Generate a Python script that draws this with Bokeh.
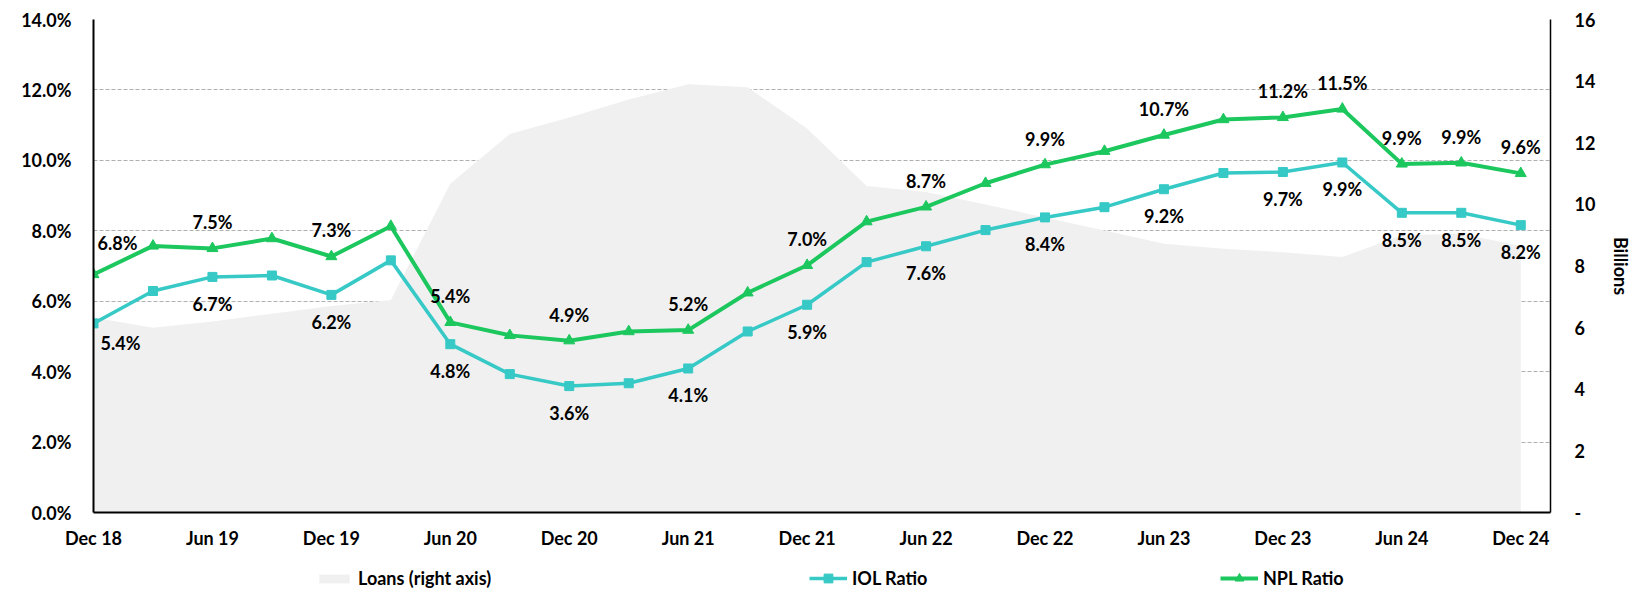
from bokeh.plotting import figure
from bokeh.layouts import column
from bokeh.models import (ColumnDataSource, Range1d, LinearAxis, FixedTicker,
                          PrintfTickFormatter, Legend, LegendItem, CDSView, IndexFilter)
from bokeh.core.properties import value
from bokeh.embed import file_html
from bokeh.resources import INLINE

# ---------------- data ----------------
quarters = ["Dec 18", "Mar 19", "Jun 19", "Sep 19", "Dec 19", "Mar 20", "Jun 20",
            "Sep 20", "Dec 20", "Mar 21", "Jun 21", "Sep 21", "Dec 21", "Mar 22",
            "Jun 22", "Sep 22", "Dec 22", "Mar 23", "Jun 23", "Sep 23", "Dec 23",
            "Mar 24", "Jun 24", "Sep 24", "Dec 24"]

loans_bn = [6.33, 6.00, 6.20, 6.45, 6.70, 6.90, 10.67, 12.28, 12.82, 13.40, 13.90,
            13.80, 12.46, 10.60, 10.40, 10.00, 9.57, 9.15, 8.72, 8.56, 8.45, 8.29,
            9.00, 9.05, 8.65]

iol_ratio = [5.37, 6.29, 6.69, 6.73, 6.18, 7.16, 4.78, 3.93, 3.59, 3.67, 4.09, 5.14,
             5.90, 7.11, 7.56, 8.02, 8.38, 8.67, 9.18, 9.64, 9.67, 9.94, 8.51, 8.51, 8.16]

npl_ratio = [6.76, 7.57, 7.50, 7.78, 7.27, 8.13, 5.40, 5.03, 4.88, 5.14, 5.18, 6.24,
             7.02, 8.26, 8.68, 9.35, 9.88, 10.26, 10.72, 11.16, 11.22, 11.46, 9.90,
             9.93, 9.63]

iol_labels = ["5.4%", "", "6.7%", "", "6.2%", "", "4.8%", "", "3.6%", "", "4.1%", "",
              "5.9%", "", "7.6%", "", "8.4%", "", "9.2%", "", "9.7%", "9.9%", "8.5%",
              "8.5%", "8.2%"]
npl_labels = ["6.8%", "", "7.5%", "", "7.3%", "", "5.4%", "", "4.9%", "", "5.2%", "",
              "7.0%", "", "8.7%", "", "9.9%", "", "10.7%", "", "11.2%", "11.5%", "9.9%",
              "9.9%", "9.6%"]

left_ticks = [0, 2, 4, 6, 8, 10, 12, 14]
right_ticks = [0, 2, 4, 6, 8, 10, 12, 14, 16]

series_names = ["Loans (right axis)", "IOL Ratio", "NPL Ratio"]

# ---------------- styling ----------------
FONT = "Lato"
TXT = "#000000"
IOL_C = "#36C9C6"
NPL_C = "#1CC75E"
AREA_C = "#F0F0F0"

xs = list(range(len(quarters)))
src = ColumnDataSource(dict(x=xs, q=quarters, loans=loans_bn, iol=iol_ratio,
                            npl=npl_ratio, iol_lab=iol_labels, npl_lab=npl_labels))

p = figure(width=1640, height=555, output_backend="svg", toolbar_location=None,
           x_range=Range1d(0, len(quarters) - 1 + 0.5), y_range=Range1d(0, 14),
           min_border_left=93, min_border_right=90, min_border_top=19,
           min_border_bottom=43, x_axis_location="below")
p.outline_line_color = None
p.background_fill_color = "white"
p.border_fill_color = "white"

p.extra_y_ranges = {"loans": Range1d(0, 16)}

# grid
p.xgrid.visible = False
p.ygrid.ticker = FixedTicker(ticks=left_ticks)
p.ygrid.grid_line_color = "#B0B0B0"
p.ygrid.grid_line_dash = "4 2"
p.ygrid.grid_line_width = 1

# loans area (right axis)
p.varea(x="x", y1=0, y2="loans", source=src, y_range_name="loans", fill_color=AREA_C)

# lines
p.line("x", "iol", source=src, line_color=IOL_C, line_width=3.5)
p.scatter("x", "iol", source=src, marker="square", size=9,
          fill_color=IOL_C, line_color=IOL_C)
p.line("x", "npl", source=src, line_color=NPL_C, line_width=4)
p.scatter("x", "npl", source=src, marker="triangle", size=11,
          fill_color=NPL_C, line_color=NPL_C)

# data labels
rest = CDSView(filter=IndexFilter(list(range(1, len(quarters)))))
first = CDSView(filter=IndexFilter([0]))
lab_kw = dict(text_font=value(FONT), text_font_style="bold", text_font_size="18px",
              text_color=TXT, text_align="center", text_baseline="middle")
p.text("x", "npl", text="npl_lab", source=src, view=rest, y_offset=-26, **lab_kw)
p.text("x", "iol", text="iol_lab", source=src, view=rest, y_offset=27, **lab_kw)
p.text("x", "npl", text="npl_lab", source=src, view=first, x_offset=24, y_offset=-31, **lab_kw)
p.text("x", "iol", text="iol_lab", source=src, view=first, x_offset=27, y_offset=20, **lab_kw)

# axes
def style_axis(ax):
    ax.major_label_text_font = FONT
    ax.major_label_text_font_style = "bold"
    ax.major_label_text_font_size = "18px"
    ax.major_label_text_color = TXT
    ax.major_tick_line_color = None
    ax.minor_tick_line_color = None
    ax.major_tick_out = 0
    ax.major_tick_in = 0
    ax.axis_line_color = "#000000"
    ax.axis_line_width = 2

xa = p.xaxis[0]
style_axis(xa)
xa.ticker = FixedTicker(ticks=xs[::2])
xa.major_label_overrides = {i: quarters[i] for i in xs[::2]}
xa.major_label_standoff = 14

ya = p.yaxis[0]
style_axis(ya)
ya.ticker = FixedTicker(ticks=left_ticks)
ya.formatter = PrintfTickFormatter(format="%.1f%%")
ya.major_label_standoff = 22

ra = LinearAxis(y_range_name="loans", axis_label="Billions")
style_axis(ra)
ra.axis_line_width = 1.5
ra.ticker = FixedTicker(ticks=right_ticks)
ra.major_label_overrides = {0: "-"}
ra.major_label_standoff = 24
ra.axis_label_text_font = FONT
ra.axis_label_text_font_style = "bold"
ra.axis_label_text_font_size = "18px"
ra.axis_label_text_color = TXT
ra.axis_label_standoff = 12
p.add_layout(ra, "right")

# ---------------- legend strip ----------------
# (its frame is aligned with the chart's frame by the column layout; the
#  renderers below use the same data but the ranges keep them out of view)
lg = figure(width=1640, height=48, output_backend="svg", toolbar_location=None,
            x_range=Range1d(0, 1), y_range=Range1d(-200, -199),
            x_axis_type=None, y_axis_type=None,
            min_border_left=93, min_border_right=90, min_border_top=0, min_border_bottom=0)
lg.outline_line_color = None
lg.xgrid.visible = False
lg.ygrid.visible = False
lg.border_fill_color = "white"

k_area = lg.varea(x="x", y1=0, y2="loans", source=src, fill_color=AREA_C)
k_iol_l = lg.line("x", "iol", source=src, line_color=IOL_C, line_width=3.5)
k_iol_m = lg.scatter("x", "iol", source=src, marker="square", size=9,
                     fill_color=IOL_C, line_color=IOL_C)
k_npl_l = lg.line("x", "npl", source=src, line_color=NPL_C, line_width=4)
k_npl_m = lg.scatter("x", "npl", source=src, marker="triangle", size=11,
                     fill_color=NPL_C, line_color=NPL_C)

def add_legend(label, renderers, xloc, gh):
    L = Legend(items=[LegendItem(label=label, renderers=renderers)],
               location=(xloc, 14), orientation="horizontal",
               glyph_width=38, glyph_height=gh, label_standoff=5,
               padding=0, margin=0, spacing=0,
               border_line_color=None, background_fill_alpha=0,
               label_text_font=FONT, label_text_font_style="bold",
               label_text_font_size="18px", label_text_color=TXT,
               label_height=22)
    lg.add_layout(L, "center")

add_legend(series_names[0], [k_area], 222, 11)
add_legend(series_names[1], [k_iol_l, k_iol_m], 716, 22)
add_legend(series_names[2], [k_npl_l, k_npl_m], 1127, 22)

layout = column(p, lg, spacing=0)
open("out.html", "w").write(file_html(layout, INLINE))
